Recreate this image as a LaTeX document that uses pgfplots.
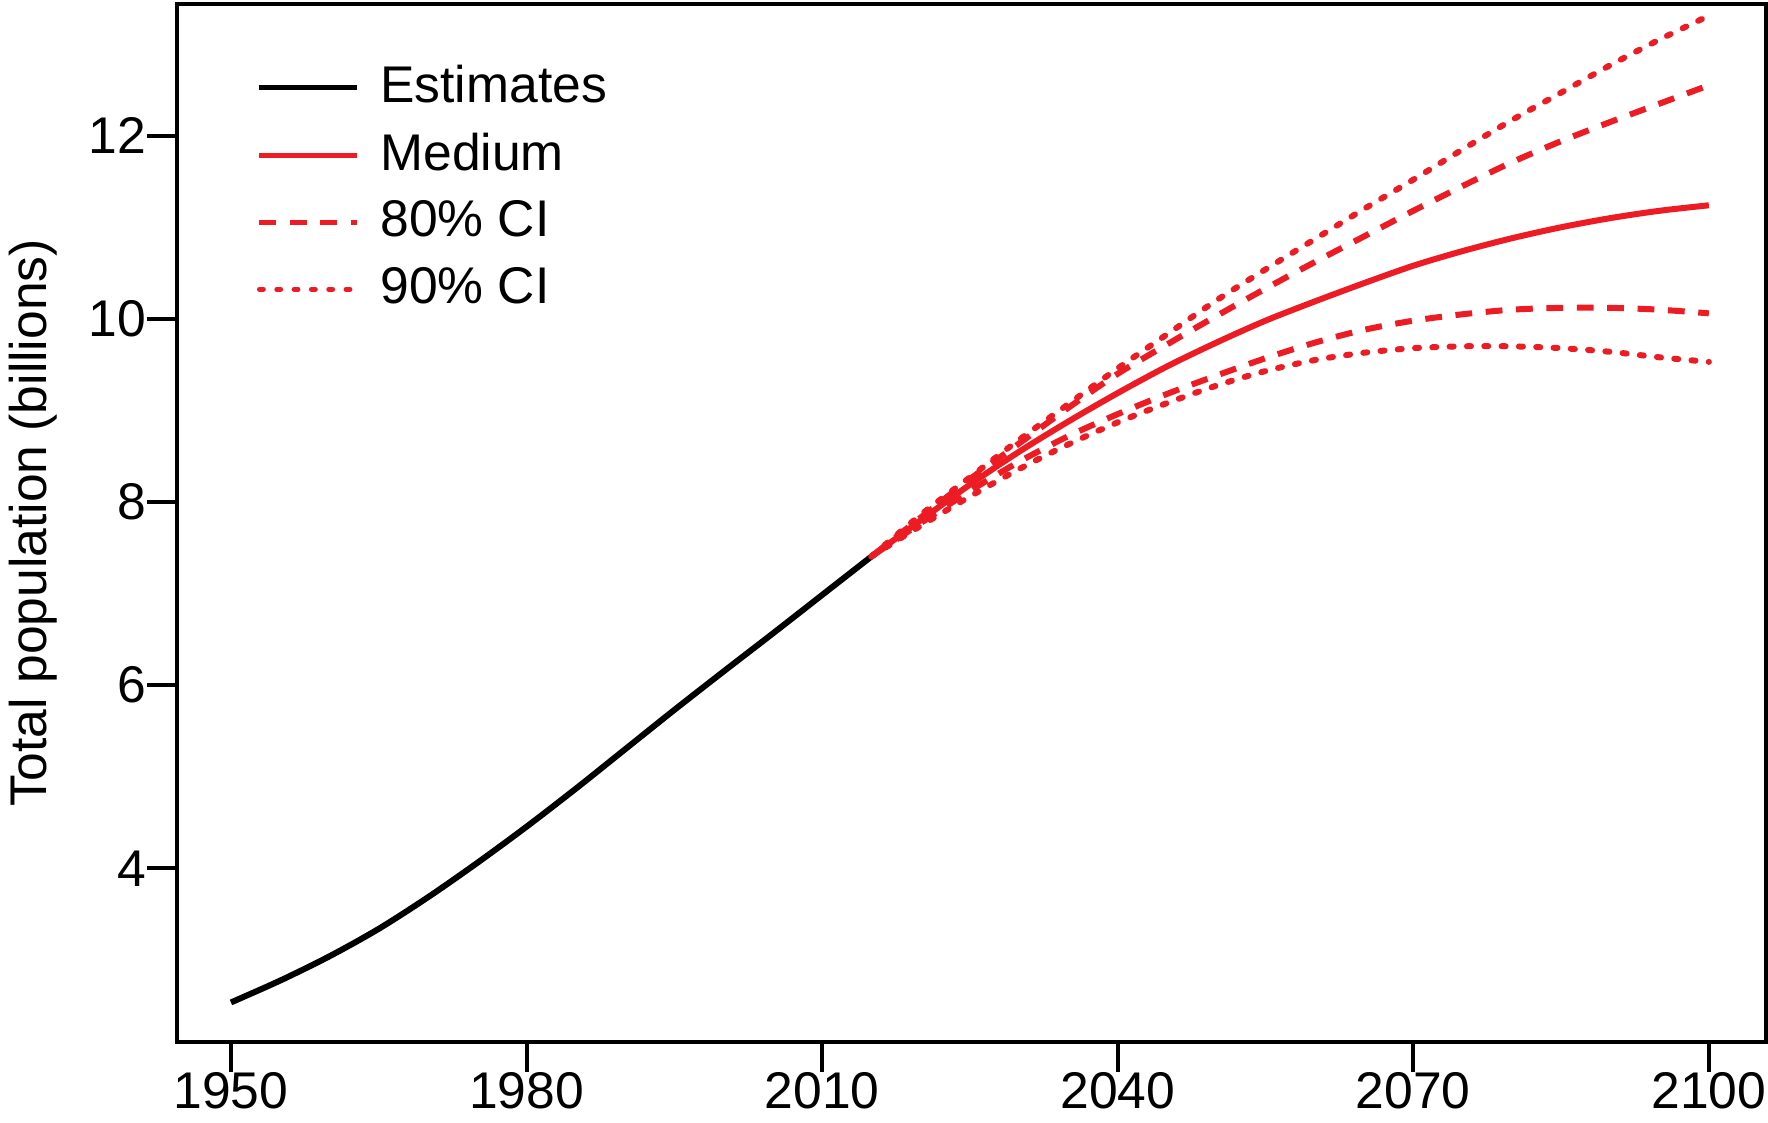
\documentclass[border=0pt]{standalone}
\usepackage{fontspec}
\setmainfont{Liberation Sans}
\usepackage{pgfplots}
\usepackage{pgfplotstable}
\pgfplotsset{compat=1.18}
\definecolor{unred}{RGB}{237,28,36}

\pgfplotstableread{
year pop
1950 2.536
1955 2.775
1960 3.040
1965 3.340
1970 3.685
1975 4.060
1980 4.455
1985 4.870
1990 5.300
1995 5.730
2000 6.150
2005 6.565
2010 6.985
2015 7.405
}\est

\pgfplotstableread{
year med u80 l80 u90 l90
2015 7.405 7.405 7.405 7.405 7.405
2020 7.80 7.83 7.77 7.86 7.74
2025 8.19 8.25 8.12 8.27 8.06
2030 8.55 8.64 8.44 8.68 8.36
2035 8.88 9.03 8.72 9.07 8.63
2040 9.19 9.40 8.96 9.46 8.87
2045 9.48 9.72 9.18 9.83 9.08
2050 9.74 10.03 9.38 10.20 9.27
2055 9.98 10.33 9.57 10.54 9.43
2060 10.19 10.62 9.74 10.87 9.55
2065 10.39 10.90 9.88 11.20 9.63
2070 10.58 11.18 9.98 11.52 9.68
2075 10.74 11.45 10.05 11.85 9.70
2080 10.88 11.71 10.10 12.17 9.70
2085 11.00 11.94 10.12 12.47 9.68
2090 11.10 12.15 10.12 12.77 9.64
2095 11.18 12.35 10.10 13.05 9.58
2100 11.24 12.55 10.06 13.31 9.53
}\proj

\begin{document}
\fontsize{12.9}{15}\selectfont
\begin{tikzpicture}
\path[use as bounding box] (-44.2pt,-20.25pt) rectangle (397.8pt,260.5pt);
\begin{axis}[
  at={(0,0)}, anchor=south west,
  scale only axis, width=397.3pt, height=259.5pt,
  xmin=1944.5, xmax=2105.8, ymin=2.104, ymax=13.438,
  xtick={1950,1980,2010,2040,2070,2100},
  ytick={4,6,8,10,12},
  tick pos=left, tick align=outside,
  major tick length=7.5pt,
  every tick/.style={black, line width=1pt},
  axis line style={line width=1pt},
  /pgf/number format/assume math mode=true,
  /pgf/number format/1000 sep={},
  xticklabel style={inner sep=0pt, anchor=north, font=\fontsize{12.9}{15}\selectfont},
  yticklabel style={inner sep=0pt, anchor=east, font=\fontsize{12.9}{15}\selectfont},
  ylabel={Total population (billions)},
  ylabel style={at={(axis description cs:-0.0905,0.5)}, anchor=center, font=\fontsize{12.9}{15}\selectfont},
  legend cell align=left,
  legend style={at={(axis description cs:0,1)}, anchor=north west,
    xshift=20.05pt, yshift=-15.25pt, draw=none, fill=none,
    inner sep=0pt, outer sep=0pt, row sep=5.7pt, column sep=5.15pt,
    nodes={inner sep=0pt}, font=\fontsize{12.9}{15}\selectfont},
  legend image code/.code={\draw[#1, line width=1.2pt] (0pt,0pt) -- (24.5pt,0pt);},
]
\addplot[black, line width=1.5pt, smooth] table[x=year,y=pop]{\est};
\addlegendentry{Estimates}
\addplot[unred, line width=1.5pt, smooth] table[x=year,y=med]{\proj};
\addlegendentry{Medium}
\addplot[unred, line width=1.5pt, dash pattern=on 4.2pt off 3.4pt, smooth] table[x=year,y=u80]{\proj};
\addlegendentry{80\% CI}
\addplot[unred, line width=1.5pt, line cap=round, dash pattern=on 1pt off 3.33pt, smooth] table[x=year,y=u90]{\proj};
\addlegendentry{90\% CI}
\addplot[unred, line width=1.5pt, dash pattern=on 4.2pt off 3.4pt, smooth, forget plot] table[x=year,y=l80]{\proj};
\addplot[unred, line width=1.5pt, line cap=round, dash pattern=on 1pt off 3.33pt, smooth, forget plot] table[x=year,y=l90]{\proj};
\end{axis}
\end{tikzpicture}
\end{document}
